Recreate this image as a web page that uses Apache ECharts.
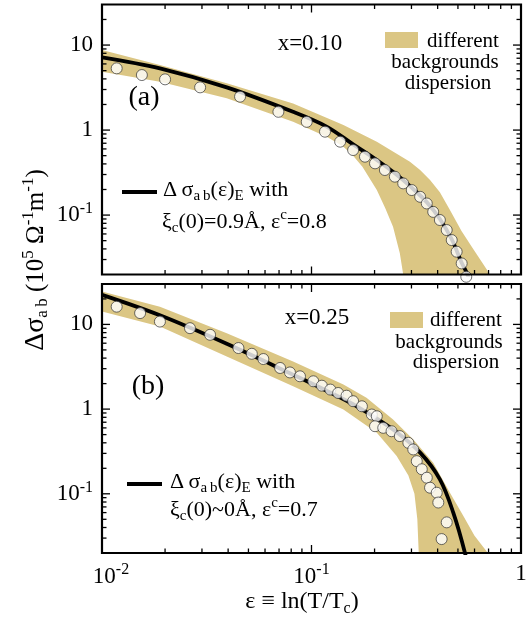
<!DOCTYPE html>
<html>
<head>
<meta charset="utf-8">
<script src="https://cdn.jsdelivr.net/npm/echarts@6/dist/echarts.min.js"></script>
<style>
html,body{margin:0;padding:0;background:#fff;}
#chart{width:532px;height:629px;}
</style>
</head>
<body>
<div id="chart"></div>
<script>
// ---------- Panel (a): x = 0.10 ----------
const aDataEps = [0.01175,0.0155,0.0200,0.0294,0.0456,0.0695,0.0949,0.116,0.137,0.158,0.180,0.201,0.224,0.250,0.274,0.301,0.330,0.355,0.381,0.410,0.442,0.467,0.493,0.521,0.548];
const aDataVal = [5.32,4.44,3.95,3.18,2.47,1.64,1.25,0.957,0.73,0.582,0.486,0.406,0.339,0.283,0.236,0.197,0.164,0.137,0.109,0.0875,0.0667,0.0508,0.0371,0.0270,0.0188];
const aFitEps = [0.01,0.0189,0.0394,0.0816,0.118,0.158,0.201,0.250,0.301,0.355,0.410,0.467,0.521,0.555,0.58];
const aFitVal = [7.18,5.32,3.18,1.64,1.10,0.68,0.46,0.31,0.21,0.142,0.09,0.052,0.0275,0.02,0.013];
const aBandUpEps = [0.01,0.0189,0.0394,0.0817,0.142,0.205,0.295,0.330,0.368,0.410,0.458,0.520,0.583,0.689,0.703];
const aBandUpVal = [8.75,5.82,3.55,2.06,1.15,0.73,0.425,0.34,0.258,0.185,0.115,0.065,0.042,0.0226,0.02];
const aBandLoEps = [0.01,0.0189,0.0394,0.0817,0.120,0.142,0.158,0.175,0.205,0.225,0.245,0.264,0.274];
const aBandLoVal = [4.85,3.7,2.36,1.25,0.82,0.637,0.50,0.37,0.197,0.12,0.073,0.0355,0.02];

// ---------- Panel (b): x = 0.25 ----------
const bDataEps = [0.01175,0.0152,0.0189,0.0263,0.0328,0.0448,0.0519,0.0589,0.0708,0.0789,0.0881,0.102,0.112,0.123,0.134,0.147,0.158,0.174,0.194,0.205,0.201,0.220,0.241,0.264,0.290,0.306,0.318,0.336,0.355,0.368,0.396,0.403,0.442,0.418];
const bDataVal = [16.2,13.6,10.8,9.03,7.54,5.26,4.5,3.9,3.06,2.71,2.44,2.13,1.89,1.70,1.55,1.44,1.24,1.08,0.863,0.824,0.628,0.601,0.548,0.48,0.40,0.334,0.243,0.195,0.155,0.118,0.103,0.0789,0.046,0.0292];
const bFitEps = [0.01,0.0189,0.0394,0.0817,0.118,0.170,0.245,0.330,0.410,0.475,0.541,0.56];
const bFitVal = [22.3,12.8,5.9,2.55,1.65,1.03,0.574,0.306,0.148,0.060,0.0197,0.012];
const bBandUpEps = [0.01,0.0189,0.0394,0.0817,0.142,0.183,0.245,0.306,0.381,0.458,0.530,0.600,0.695];
const bBandUpVal = [24.4,16.2,7.89,3.66,1.95,1.36,0.753,0.438,0.233,0.103,0.055,0.032,0.02];
const bBandLoEps = [0.01,0.0189,0.0394,0.0817,0.142,0.205,0.255,0.290,0.310,0.320,0.325];
const bBandLoVal = [14.2,9.44,4.19,1.86,0.988,0.526,0.279,0.165,0.10,0.05,0.02];

// ---------- Axes ----------
const xRange = [0.01, 1];
const yRange = [0.02, 30];
const xTickExps = [-2, -1, 0];
const xTickLabels = ['10^-2', '10^-1', '1'];
const yTickExps = [-1, 0, 1];
const yTickLabels = ['10^-1', '1', '10'];
const xMajor = [0.01, 0.1, 1];
const xMinor = [0.02,0.03,0.04,0.05,0.06,0.07,0.08,0.09,0.2,0.3,0.4,0.5,0.6,0.7,0.8,0.9];
const yMajor = [0.1, 1, 10];
const yMinor = [0.03,0.04,0.05,0.06,0.07,0.08,0.09,0.2,0.3,0.4,0.5,0.6,0.7,0.8,0.9,2,3,4,5,6,7,8,9,20];

const FONT = '"Liberation Serif", "DejaVu Serif", serif';
const BAND = '#dbc684';

function richLabel(s, first) {
  const p = s.split('^');
  const base = (first ? '{b0|' : '{b|') + p[0] + '}';
  return p.length > 1 ? base + '{s|' + p[1] + '}' : base;
}
function makeFormatter(exps, labels, isX) {
  return function (v) {
    const l = Math.log10(v);
    const e = Math.round(l);
    if (Math.abs(l - e) > 1e-6) return '';
    const i = exps.indexOf(e);
    if (i < 0) return '';
    return richLabel(labels[i], isX && i === 0);
  };
}
const labelRich = {
  b: {fontSize: 23, fontFamily: FONT, color: '#000'},
  b0: {fontSize: 23, fontFamily: FONT, color: '#000', padding: [0, 0, 0, 18]},
  s: {fontSize: 16, fontFamily: FONT, color: '#000', padding: [0, 0, 13, 0]}
};

function zip(a, b) { return a.map((v, i) => [v, b[i]]); }

function bandRender(up, lo) {
  return function (params, api) {
    const cs = params.coordSys;
    const pts = up.map(p => api.coord(p)).concat(lo.slice().reverse().map(p => api.coord(p)));
    return {
      type: 'polygon',
      shape: {points: pts},
      style: {fill: BAND, stroke: null},
      clipPath: {type: 'rect', shape: {x: cs.x, y: cs.y, width: cs.width, height: cs.height}},
      silent: true
    };
  };
}

function frameRender(params, api) {
  const cs = params.coordSys;
  const ch = [];
  const L = 8, S = 4.5;
  const st = {stroke: '#000', lineWidth: 1.3};
  function xt(v, len) {
    const x = api.coord([v, yRange[0]])[0];
    ch.push({type: 'line', shape: {x1: x, y1: cs.y + cs.height, x2: x, y2: cs.y + cs.height - len}, style: st});
    ch.push({type: 'line', shape: {x1: x, y1: cs.y, x2: x, y2: cs.y + len}, style: st});
  }
  function yt(v, len) {
    const y = api.coord([xRange[0], v])[1];
    ch.push({type: 'line', shape: {x1: cs.x, y1: y, x2: cs.x + len, y2: y}, style: st});
    ch.push({type: 'line', shape: {x1: cs.x + cs.width, y1: y, x2: cs.x + cs.width - len, y2: y}, style: st});
  }
  xMajor.forEach(v => xt(v, L));
  xMinor.forEach(v => xt(v, S));
  yMajor.forEach(v => yt(v, L));
  yMinor.forEach(v => yt(v, S));
  ch.push({type: 'rect', shape: {x: cs.x, y: cs.y, width: cs.width, height: cs.height},
           style: {fill: null, stroke: '#000', lineWidth: 2.2}});
  return {type: 'group', children: ch, silent: true};
}

function axisPair(gi, showX) {
  return {
    x: {
      type: 'log', logBase: 10, gridIndex: gi, min: xRange[0], max: xRange[1],
      axisLine: {show: false}, axisTick: {show: false}, splitLine: {show: false},
      axisLabel: {show: showX, margin: 9, formatter: makeFormatter(xTickExps, xTickLabels, true), rich: labelRich}
    },
    y: {
      type: 'log', logBase: 10, gridIndex: gi, min: yRange[0], max: yRange[1],
      axisLine: {show: false}, axisTick: {show: false}, splitLine: {show: false},
      axisLabel: {show: true, margin: 9, formatter: makeFormatter(yTickExps, yTickLabels, false), rich: labelRich}
    }
  };
}
const A0 = axisPair(0, false), A1 = axisPair(1, true);

function panelSeries(i, dEps, dVal, fEps, fVal, upE, upV, loE, loV) {
  return [
    {type: 'custom', xAxisIndex: i, yAxisIndex: i, z: 1, data: [[0.1, 1]],
     renderItem: bandRender(zip(upE, upV), zip(loE, loV)), silent: true},
    {type: 'line', xAxisIndex: i, yAxisIndex: i, z: 3, data: zip(fEps, fVal), showSymbol: false,
     smooth: 0.35, lineStyle: {color: '#000', width: 3.8}, clip: true, silent: true},
    {type: 'scatter', xAxisIndex: i, yAxisIndex: i, z: 4, data: zip(dEps, dVal), symbol: 'circle',
     symbolSize: 11, clip: false, silent: true,
     itemStyle: {color: '#fff', borderColor: '#333', borderWidth: 0.9}},
    {type: 'custom', xAxisIndex: i, yAxisIndex: i, z: 6, data: [[0.1, 1]], renderItem: frameRender, silent: true}
  ];
}

const txt = (x, y, text, size, align, extra) => Object.assign({
  type: 'text', x: x, y: y, silent: true,
  style: {text: text, fontFamily: FONT, fontSize: size, fill: '#000', align: align || 'left', verticalAlign: 'middle',
    rich: {
      sub: {fontFamily: FONT, fontSize: Math.round(size * 0.68), padding: [size * 0.55, 0, 0, 0]},
      sup: {fontFamily: FONT, fontSize: Math.round(size * 0.68), padding: [0, 0, size * 0.6, 0]},
      big: {fontFamily: FONT, fontSize: Math.round(size * 1.1)}
    }}
}, extra || {});

const graphics = [
  // panel (a)
  txt(310, 44, 'x=0.10', 23, 'center'),
  {type: 'rect', shape: {x: 385, y: 32, width: 33, height: 16}, style: {fill: BAND}, silent: true},
  txt(427, 41, 'different', 21),
  txt(445, 62, 'backgrounds', 21, 'center'),
  txt(448, 83, 'dispersion', 21, 'center'),
  txt(144, 98, '(a)', 28, 'center'),
  {type: 'line', shape: {x1: 122, y1: 192, x2: 157, y2: 192}, style: {stroke: '#000', lineWidth: 3.8}, silent: true},
  txt(163, 190, 'Δ\u2009σ{sub|a\u2009b}(ε){sub|E} with', 22),
  txt(162, 222, 'ξ{sub|c}(0)=0.9Å, ε{sup|c}=0.8', 22),
  // panel (b)
  txt(317, 318, 'x=0.25', 23, 'center'),
  {type: 'rect', shape: {x: 390, y: 312, width: 33, height: 16}, style: {fill: BAND}, silent: true},
  txt(430, 320, 'different', 21),
  txt(449, 342, 'backgrounds', 21, 'center'),
  txt(456, 362, 'dispersion', 21, 'center'),
  txt(148, 387, '(b)', 28, 'center'),
  {type: 'line', shape: {x1: 127, y1: 484, x2: 162, y2: 484}, style: {stroke: '#000', lineWidth: 3.8}, silent: true},
  txt(170, 482, 'Δ\u2009σ{sub|a\u2009b}(ε){sub|E} with', 22),
  txt(170, 510, 'ξ{sub|c}(0)~0Å, ε{sup|c}=0.7', 22),
  // axis names
  txt(302, 602, 'ε ≡ ln(T/T{sub|c})', 24, 'center'),
  txt(36, 260, '{big|Δσ}{sub|a\u2009b} (10{sup|5} Ω{sup|-1}m{sup|-1})', 25, 'center', {rotation: Math.PI / 2})
];

const chart = echarts.init(document.getElementById('chart'), null, {renderer: 'canvas'});
chart.setOption({
  animation: false,
  backgroundColor: '#fff',
  grid: [
    {left: 102, right: 11, top: 4.5, height: 270},
    {left: 102, right: 11, top: 284, height: 269}
  ],
  xAxis: [A0.x, A1.x],
  yAxis: [A0.y, A1.y],
  series: panelSeries(0, aDataEps, aDataVal, aFitEps, aFitVal, aBandUpEps, aBandUpVal, aBandLoEps, aBandLoVal)
    .concat(panelSeries(1, bDataEps, bDataVal, bFitEps, bFitVal, bBandUpEps, bBandUpVal, bBandLoEps, bBandLoVal)),
  graphic: graphics
});
</script>
</body>
</html>
